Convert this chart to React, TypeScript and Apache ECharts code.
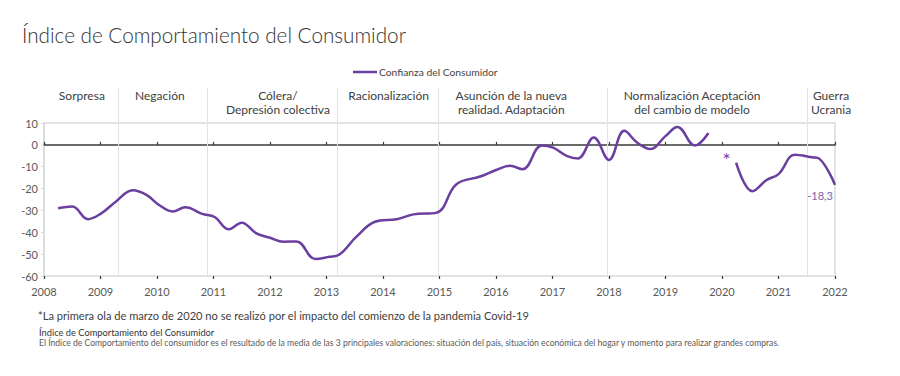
import React, { useEffect, useRef } from 'react';
import * as echarts from 'echarts';

const seriesName = 'Confianza del Consumidor';

const waveDates = [
  2008.25, 2008.5, 2008.78, 2009.0, 2009.27, 2009.57, 2009.82, 2010.03, 2010.28, 2010.5,
  2010.8, 2011.02, 2011.27, 2011.5, 2011.76, 2012.0, 2012.24, 2012.47, 2012.8, 2013.05,
  2013.22, 2013.53, 2013.86, 2014.24, 2014.54, 2014.95, 2015.3, 2015.72, 2016.0, 2016.25,
  2016.47, 2016.81, 2017.01, 2017.25, 2017.45, 2017.73, 2018.0, 2018.27, 2018.5, 2018.73,
  2019.0, 2019.21, 2019.52, 2019.76, 2020.0, 2020.25, 2020.54, 2020.79, 2021.0, 2021.29,
  2021.6, 2021.72, 2022.0,
];

const indexValues: (number | null)[] = [
  -29.0, -28.2, -34.0, -31.6, -26.0, -20.8, -23.0, -27.4, -30.5, -28.6,
  -31.6, -33.0, -38.6, -35.6, -40.5, -42.5, -44.3, -44.2, -52.2, -51.2,
  -50.3, -42.0, -35.2, -34.0, -31.8, -31.0, -18.0, -14.5, -11.5, -9.6,
  -11.2, -0.3, -1.3, -5.0, -6.2, 3.4, -6.9, 6.4, 1.0, -1.9,
  4.0, 8.2, -0.3, 5.4, null, -8.1, -21.2, -16.1, -13.4, -4.5,
  -5.7, -6.3, -18.3,
];

const yearTicks = { min: 2008, max: 2022, interval: 1 };
const valueTicks = { min: -60, max: 10, interval: 10 };

const phaseNames = [
  'Sorpresa',
  'Negación',
  'Cólera/\nDepresión colectiva',
  'Racionalización',
  'Asunción de la nueva\nrealidad. Adaptación',
  'Normalización Aceptación\ndel cambio de modelo',
  'Guerra\nUcrania',
];
const phaseLabelCenters = [2008.67, 2010.05, 2012.14, 2014.1, 2016.27, 2019.47, 2021.93];
const phaseBoundaries = [2009.31, 2010.88, 2013.18, 2014.98, 2017.97, 2021.5];

const missingWaveYear = 2020.08;

const footnote = '*La primera ola de marzo de 2020 no se realizó por el impacto del comienzo de la pandemia Covid-19';
const sourceTitle = 'Índice de Comportamiento del Consumidor';
const sourceText = 'El Índice de Comportamiento del consumidor es el resultado de la media de las 3 principales valoraciones: situación del país, situación económica del hogar y momento para realizar grandes compras.';

const PURPLE = '#6b3fa0';
const FONT = 'Lato, "Noto Sans", sans-serif';

export default function App() {
  const ref = useRef<HTMLDivElement>(null);

  useEffect(() => {
    document.body.style.margin = '0';
    if (!ref.current) return;
    const chart = echarts.init(ref.current, undefined, { renderer: 'svg' });

    const lastIdx = waveDates.length - 1;
    const data = waveDates.map((d, i) => {
      const v = indexValues[i];
      if (v === null) return [d, '-'];
      if (i === lastIdx) {
        return {
          value: [d, v],
          symbol: 'circle',
          symbolSize: 0.01,
          label: {
            show: true,
            position: 'bottom',
            align: 'right',
            distance: 5,
            offset: [-2, 0],
            formatter: () => String(v).replace('.', ','),
            color: '#7d62ad',
            fontSize: 11,
            fontFamily: FONT,
          },
        };
      }
      return [d, v];
    });

    const option: any = {
      animation: false,
      textStyle: { fontFamily: FONT },
      title: {
        text: 'Índice de Comportamiento del Consumidor',
        left: 17,
        top: 19,
        textStyle: { fontSize: 20.7, fontWeight: 300, color: '#333333', fontFamily: FONT },
      },
      legend: {
        data: [seriesName],
        left: 348,
        top: 62,
        icon: 'rect',
        itemWidth: 24,
        itemHeight: 2.5,
        textStyle: { fontSize: 10.3, color: '#444444', fontFamily: FONT, padding: [0, 0, 0, -3] },
      },
      grid: {
        left: 44,
        right: 65,
        top: 123,
        bottom: 100,
        show: true,
        borderColor: '#dadada',
        borderWidth: 1.5,
        backgroundColor: 'transparent',
      },
      xAxis: [
        {
          type: 'value',
          position: 'bottom',
          ...yearTicks,
          axisLine: { show: false, onZero: false },
          axisTick: { show: false },
          splitLine: { show: false },
          axisLabel: {
            margin: 10,
            fontSize: 11,
            color: '#595959',
            fontFamily: FONT,
            formatter: (v: number) => String(v),
          },
        },
        {
          type: 'value',
          position: 'top',
          ...yearTicks,
          axisLine: { show: true, onZero: true, lineStyle: { color: '#3a3a3a', width: 1.5 } },
          axisTick: { show: true, inside: false, length: 3, lineStyle: { color: '#3a3a3a', width: 1.2 } },
          splitLine: { show: false },
          axisLabel: { show: false },
        },
        {
          type: 'value',
          position: 'bottom',
          ...yearTicks,
          axisLine: { show: false, onZero: true },
          axisTick: { show: true, inside: false, length: 3, lineStyle: { color: '#3a3a3a', width: 1.2 } },
          splitLine: { show: false },
          axisLabel: { show: false },
        },
      ],
      yAxis: {
        type: 'value',
        ...valueTicks,
        axisLine: { show: true, lineStyle: { color: '#dadada', width: 1.5 } },
        axisTick: { show: true, length: 3, lineStyle: { color: '#dadada' } },
        splitLine: { show: false },
        axisLabel: { margin: 6, fontSize: 11, color: '#595959', fontFamily: FONT },
      },
      series: [
        {
          name: seriesName,
          type: 'line',
          xAxisIndex: 0,
          data,
          smooth: 0.4,
          symbol: 'none',
          showSymbol: true,
          connectNulls: false,
          lineStyle: { color: PURPLE, width: 2.5 },
          itemStyle: { color: PURPLE },
          z: 5,
        },
      ],
    };

    chart.setOption(option);

    const px = (yr: number) => chart.convertToPixel({ xAxisIndex: 0 }, yr) as number;
    const py = (v: number) => chart.convertToPixel({ yAxisIndex: 0 }, v) as number;
    const bottomY = py(valueTicks.min);
    const zeroY = py(0);

    const graphics: any[] = [];
    phaseBoundaries.forEach((yr) => {
      const x = Math.round(px(yr)) + 0.5;
      graphics.push({
        type: 'line',
        shape: { x1: x, y1: 88, x2: x, y2: bottomY },
        style: { stroke: '#e3e3e3', lineWidth: 1 },
        z: 1,
      });
    });
    phaseNames.forEach((name, i) => {
      graphics.push({
        type: 'text',
        x: px(phaseLabelCenters[i]),
        y: 89,
        style: {
          text: name,
          align: 'center',
          verticalAlign: 'top',
          fontSize: 12,
          lineHeight: 13.5,
          fontFamily: FONT,
          fill: '#404040',
        },
      });
    });
    graphics.push({
      type: 'text',
      x: px(missingWaveYear),
      y: zeroY + 5,
      style: {
        text: '*',
        align: 'center',
        verticalAlign: 'top',
        fontSize: 19,
        fontFamily: FONT,
        fill: PURPLE,
      },
    });
    graphics.push({
      type: 'text',
      x: 38,
      y: 315,
      style: { text: footnote, verticalAlign: 'middle', fontSize: 11.1, fontFamily: FONT, fill: '#404040' },
    });
    graphics.push({
      type: 'text',
      x: 39,
      y: 332,
      style: { text: sourceTitle, verticalAlign: 'middle', fontSize: 9.3, fontFamily: FONT, fill: '#333333' },
    });
    graphics.push({
      type: 'text',
      x: 39,
      y: 342.5,
      style: { text: sourceText, verticalAlign: 'middle', fontSize: 8.6, fontFamily: FONT, fill: '#5a5a5a' },
    });

    chart.setOption({ graphic: graphics });

    return () => chart.dispose();
  }, []);

  return <div ref={ref} style={{ width: 900, height: 376 }} />;
}
